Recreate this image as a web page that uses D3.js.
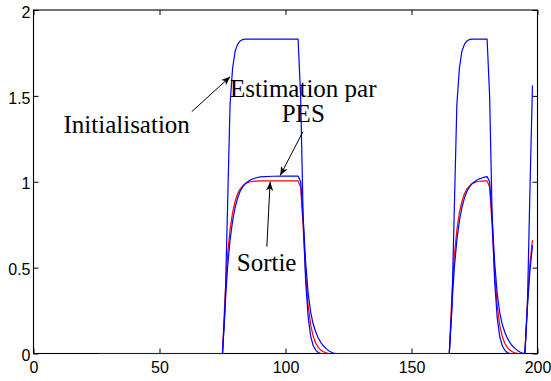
<!DOCTYPE html>
<html>
<head>
<meta charset="utf-8">
<script src="https://cdn.jsdelivr.net/npm/d3@7"></script>
<style>
  html, body { margin: 0; padding: 0; background: #fff; }
  svg { display: block; }
</style>
</head>
<body>
<svg id="chart" width="551" height="381"></svg>
<script>
// Sample instants (flat stretches keep only their end points)
const sampleTimes = [26,
  75, 76, 77, 78, 79, 80, 81, 82, 83, 84, 85, 86, 88, 90, 95, 100,
  105, 106, 107, 108, 109, 110, 111, 112, 113, 114, 115, 116, 117, 118, 119, 120,
  165, 166, 167, 168, 169, 170, 171, 172, 173, 174, 175, 176, 177, 178, 179, 180,
  181, 182, 183, 184, 185, 186, 187, 188, 189, 190, 191, 192, 193, 194, 195, 196, 197, 198];

// Model response with the initial parameters
const initialisation = [0,
  0, 0.25, 0.85, 1.45, 1.66, 1.76, 1.80, 1.82, 1.828, 1.83, 1.83, 1.83, 1.83, 1.83, 1.83, 1.83,
  1.83, 1.5, 0.8, 0.42, 0.21, 0.1, 0.045, 0.02, 0.006, 0, 0, 0, 0, 0, 0, 0,
  0, 0.25, 0.85, 1.45, 1.66, 1.76, 1.80, 1.82, 1.828, 1.83, 1.83, 1.83, 1.83, 1.83, 1.83, 1.83,
  1.5, 0.8, 0.42, 0.21, 0.1, 0.045, 0.02, 0.006, 0, 0, 0, 0, 0, 0, 0, 0.28, 0.95, 1.56];

// Measured system output
const sortie = [0,
  0, 0.33, 0.57, 0.72, 0.82, 0.885, 0.93, 0.958, 0.975, 0.988, 0.995, 1.0, 1.004, 1.005, 1.005, 1.005,
  1.005, 0.97, 0.74, 0.46, 0.28, 0.165, 0.1, 0.06, 0.036, 0.02, 0.01, 0.004, 0.001, 0, 0, 0,
  0, 0.33, 0.57, 0.72, 0.82, 0.885, 0.93, 0.958, 0.975, 0.988, 0.995, 1.0, 1.003, 1.004, 1.005, 1.005,
  0.97, 0.74, 0.46, 0.28, 0.165, 0.1, 0.06, 0.036, 0.02, 0.01, 0.004, 0.001, 0, 0, 0, 0.3, 0.52, 0.66];

// Model response with the PES estimated parameters
const estimationPES = [0,
  0, 0.27, 0.5, 0.66, 0.77, 0.85, 0.905, 0.945, 0.97, 0.988, 1.0, 1.01, 1.022, 1.028, 1.032, 1.033,
  1.033, 1.0, 0.79, 0.53, 0.35, 0.24, 0.17, 0.125, 0.09, 0.065, 0.045, 0.03, 0.018, 0.009, 0.003, 0,
  0, 0.27, 0.5, 0.66, 0.77, 0.85, 0.905, 0.945, 0.97, 0.988, 1.0, 1.01, 1.017, 1.022, 1.027, 1.03,
  1.0, 0.79, 0.53, 0.35, 0.24, 0.17, 0.125, 0.09, 0.065, 0.045, 0.03, 0.018, 0.009, 0.003, 0, 0.27, 0.48, 0.63];

const xTicks = [0, 50, 100, 150, 200];
const yTicks = [0, 0.5, 1, 1.5, 2];

const svg = d3.select("#chart");
const plotLeft = 33.5, plotRight = 537.5, plotTop = 10, plotBottom = 353.5;

const x = d3.scaleLinear().domain([0, 200]).range([plotLeft, plotRight]);
const y = d3.scaleLinear().domain([0, 2]).range([plotBottom, plotTop]);

svg.append("rect").attr("width", 551).attr("height", 381).attr("fill", "#fff");

const fmt = d => String(d);

function styleAxis(g, showText) {
  g.select(".domain").remove();
  g.attr("font-family", "Liberation Sans").attr("font-size", 16);
  g.selectAll(".tick line").attr("stroke", "#000").attr("stroke-width", 1);
  g.selectAll(".tick text").attr("fill", "#000");
  if (!showText) g.selectAll(".tick text").remove();
}

svg.append("g").attr("transform", `translate(0,${plotBottom})`)
  .call(d3.axisBottom(x).tickValues(xTicks).tickFormat(fmt).tickSizeInner(-5).tickSizeOuter(0).tickPadding(8.5))
  .call(g => styleAxis(g, true));
svg.append("g").attr("transform", `translate(0,${plotTop})`)
  .call(d3.axisTop(x).tickValues(xTicks).tickSizeInner(-5).tickSizeOuter(0))
  .call(g => styleAxis(g, false));
svg.append("g").attr("transform", `translate(${plotLeft},0)`)
  .call(d3.axisLeft(y).tickValues(yTicks).tickFormat(fmt).tickSizeInner(-5).tickSizeOuter(0).tickPadding(3))
  .call(g => { styleAxis(g, true); g.selectAll(".tick text").attr("dy", "0.45em"); });
svg.append("g").attr("transform", `translate(${plotRight},0)`)
  .call(d3.axisRight(y).tickValues(yTicks).tickSizeInner(-5).tickSizeOuter(0))
  .call(g => styleAxis(g, false));

svg.append("rect")
  .attr("x", plotLeft).attr("y", plotTop)
  .attr("width", plotRight - plotLeft).attr("height", plotBottom - plotTop)
  .attr("fill", "none").attr("stroke", "#000").attr("stroke-width", 1.1);

const line = d3.line().x(d => x(d[0])).y(d => y(d[1]));
const series = [
  { values: sortie, color: "#ff0000" },
  { values: estimationPES, color: "#0000ff" },
  { values: initialisation, color: "#0000ff" }
];
series.forEach(s => {
  svg.append("path")
    .datum(sampleTimes.map((t, i) => [t, s.values[i]]))
    .attr("d", line)
    .attr("fill", "none")
    .attr("stroke", s.color)
    .attr("stroke-width", 1.2)
    .attr("stroke-linejoin", "round");
});

// Annotations (data coordinates)
svg.append("defs").append("marker")
  .attr("id", "head")
  .attr("viewBox", "-10 -5 11 10")
  .attr("refX", 0).attr("refY", 0)
  .attr("markerWidth", 11).attr("markerHeight", 10)
  .attr("markerUnits", "userSpaceOnUse")
  .attr("orient", "auto")
  .append("path")
  .attr("d", "M0,0 L-9,-3.6 L-6.5,0 L-9,3.6 Z")
  .attr("fill", "#000");

const arrows = [
  { from: [62.8, 1.408], to: [78.05, 1.612] },
  { from: [106.9, 1.291], to: [97.9, 1.036] },
  { from: [92.6, 0.622], to: [93.9, 1.0] }
];
arrows.forEach(a => {
  svg.append("line")
    .attr("x1", x(a.from[0])).attr("y1", y(a.from[1]))
    .attr("x2", x(a.to[0])).attr("y2", y(a.to[1]))
    .attr("stroke", "#000").attr("stroke-width", 1)
    .attr("marker-end", "url(#head)");
});

const labels = [
  { text: "Initialisation", at: [11.9, 1.282], anchor: "start" },
  { text: "Estimation par", at: [107.05, 1.492], anchor: "middle" },
  { text: "PES", at: [107.05, 1.35], anchor: "middle" },
  { text: "Sortie", at: [92.5, 0.482], anchor: "middle" }
];
labels.forEach(l => {
  svg.append("text")
    .attr("x", x(l.at[0])).attr("y", y(l.at[1]))
    .attr("text-anchor", l.anchor)
    .attr("font-family", "Liberation Serif")
    .attr("font-size", 25)
    .attr("fill", "#000")
    .text(l.text);
});
</script>
</body>
</html>
